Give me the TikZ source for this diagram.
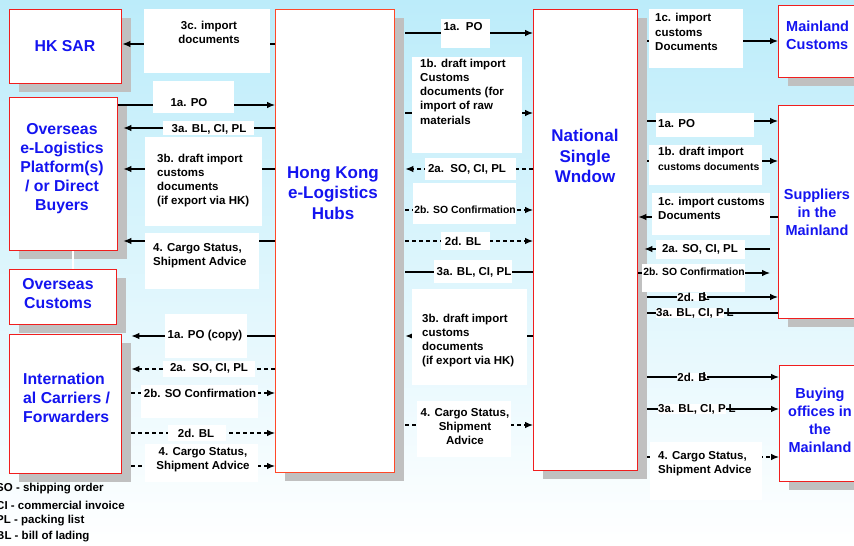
\documentclass[tikz,border=0pt]{standalone}
\usepackage{fontspec}
\setmainfont{Liberation Sans}
\usetikzlibrary{arrows.meta,shadows}
\definecolor{bgtop}{RGB}{188,236,250}
\definecolor{bgmid}{RGB}{226,246,252}
\definecolor{boxred}{RGB}{240,30,30}
\definecolor{hubred}{RGB}{255,72,40}
\definecolor{shd}{RGB}{192,192,192}
\definecolor{tblue}{RGB}{20,20,240}
\begin{document}
\begin{tikzpicture}[x=1pt,y=-1pt,
  box/.style={draw=boxred, line width=1.4pt, fill=white, inner sep=0pt, anchor=north west,
    drop shadow={shadow xshift=9pt, shadow yshift=-8pt, fill=shd, opacity=1}},
  btxt/.style={text=tblue, font=\fontsize{15.8}{19}\selectfont\bfseries, align=center, inner sep=0pt},
  rtxt/.style={text=tblue, font=\fontsize{14.5}{18}\selectfont\bfseries, align=center, inner sep=0pt},
  htxt/.style={text=tblue, font=\fontsize{17}{20.5}\selectfont\bfseries, align=center, inner sep=0pt},
  lbl/.style={font=\fontsize{11.5}{14.2}\selectfont\bfseries, inner sep=0pt, align=left},
  slbl/.style={font=\fontsize{10.4}{13}\selectfont\bfseries, inner sep=0pt, align=left},
  arr/.style={line width=1.1pt, -{Latex[length=8pt,width=6.5pt]}},
  ln/.style={line width=1.1pt},
  dsh/.style={dash pattern=on 4pt off 3pt},
  wb/.style={fill=white}
]
\useasboundingbox (0,0) rectangle (854,546);
\clip (0,0) rectangle (854,546);
\shade[top color=bgtop, middle color=bgmid, bottom color=white] (0,0) rectangle (854,546);

% boxes
\node[box, minimum width=112pt, minimum height=74pt] (hksar) at (9,9) {};
\node[box, minimum width=108pt, minimum height=153pt] (ovs) at (9,97) {};
\node[box, minimum width=107pt, minimum height=55pt] (ovc) at (9,269) {};
\node[box, minimum width=112pt, minimum height=139pt] (carr) at (9,334) {};
\node[box, draw=hubred, minimum width=119pt, minimum height=463pt] (hub) at (275,9) {};
\node[box, minimum width=104pt, minimum height=461pt] (nsw) at (533,9) {};
\node[box, minimum width=100pt, minimum height=72pt] (mcus) at (778,5) {};
\node[box, minimum width=100pt, minimum height=213pt] (sup) at (778,105) {};
\node[box, minimum width=100pt, minimum height=116pt] (buy) at (779,365) {};

\coordinate (ovsE) at ([xshift=5pt]ovs.east);
\coordinate (carrE) at ([xshift=9pt]carr.east);
\coordinate (hubE) at ([xshift=10pt]hub.east);
\coordinate (nswE) at ([xshift=9pt]nsw.east);
\coordinate (supW) at ([xshift=-8pt]sup.west);

\draw[white, line width=1.5pt] (ovs.south -| 73,0) -- (ovc.north -| 73,0);

% left connectors
\draw[arr] (hub.west |- 0,44) -- (hksar.east |- 0,44);
\draw[arr] (ovs.east |- 0,105) -- (hub.west |- 0,105);
\draw[arr] (hub.west |- 0,128) -- (ovsE |- 0,128);
\draw[arr] (hub.west |- 0,169) -- (ovsE |- 0,169);
\draw[arr] (hub.west |- 0,241) -- (ovsE |- 0,241);
\draw[arr] (hub.west |- 0,336) -- (carrE |- 0,336);
\draw[arr,dsh] (hub.west |- 0,369) -- (carrE |- 0,369);
\draw[arr,dsh] (carrE |- 0,393) -- (hub.west |- 0,393);
\draw[arr,dsh] (carrE |- 0,433) -- (hub.west |- 0,433);
\draw[arr,dsh] (carrE |- 0,466) -- (hub.west |- 0,466);

% middle connectors
\draw[arr] (hubE |- 0,33) -- (nsw.west |- 0,33);
\draw[arr] (hubE |- 0,113) -- (nsw.west |- 0,113);
\draw[arr,dsh] (nsw.west |- 0,169) -- (hubE |- 0,169);
\draw[arr,dsh] (hubE |- 0,210) -- (nsw.west |- 0,210);
\draw[arr,dsh] (hubE |- 0,241) -- (nsw.west |- 0,241);
\draw[ln] (hubE |- 0,272) -- (nsw.west |- 0,272);
\draw[arr] (nsw.west |- 0,336) -- (hubE |- 0,336);
\draw[arr,dsh] (hubE |- 0,425) -- (nsw.west |- 0,425);

% right connectors
\draw[arr] (nswE |- 0,41) -- (mcus.west |- 0,41);
\draw[arr] (nswE |- 0,121) -- (sup.west |- 0,121);
\draw[arr] (nswE |- 0,161) -- (sup.west |- 0,161);
\draw[arr] (sup.west |- 0,217) -- (nsw.east |- 0,217);
\draw[arr] (supW |- 0,249) -- ([xshift=-3pt]nswE |- 0,249);
\draw[arr] (nsw.east |- 0,273) -- (supW |- 0,273);
\draw[arr] (nswE |- 0,297) -- (sup.west |- 0,297);
\draw[ln] (nswE |- 0,313) -- (sup.west |- 0,313);
\draw[arr] (nswE |- 0,377) -- (buy.west |- 0,377);
\draw[arr] (nswE |- 0,409) -- (buy.west |- 0,409);
\draw[arr,dsh] (nswE |- 0,457) -- (buy.west |- 0,457);

% white label backgrounds
\fill[wb] (144,9) rectangle (270,73);
\fill[wb] (153,81) rectangle (234,113);
\fill[wb] (163,121) rectangle (254,135);
\fill[wb] (145,137) rectangle (262,226);
\fill[wb] (145,233) rectangle (259,289);
\fill[wb] (165,314) rectangle (247,358);
\fill[wb] (163,361) rectangle (255,377);
\fill[wb] (141,385) rectangle (258,418);
\fill[wb] (168,425) rectangle (226,441);
\fill[wb] (145,444) rectangle (258,482);

\fill[wb] (441,19) rectangle (490,48);
\fill[wb] (412,57) rectangle (522,153);
\fill[wb] (425,158) rectangle (516,180);
\fill[wb] (413,183) rectangle (516,224);
\fill[wb] (441,232) rectangle (490,250);
\fill[wb] (434,260) rectangle (512,283);
\fill[wb] (412,289) rectangle (527,385);
\fill[wb] (417,401) rectangle (511,457);

\fill[wb] (649,9) rectangle (743,68);
\fill[wb] (656,113) rectangle (754,137);
\fill[wb] (649,145) rectangle (762,185);
\fill[wb] (652,193) rectangle (770,235);
\fill[wb] (656,240) rectangle (745,259);
\fill[wb] (642,264) rectangle (745,292);
\fill[wb] (650,442) rectangle (762,500);

% left labels
\node[lbl, align=center] (l1) at (209,32) {3c. import\\documents};
\node[lbl] (l2) at (189,103) {1a. PO};
\node[lbl] (l3) at (209,129) {3a. BL, CI, PL};
\node[lbl, anchor=west] (l4) at (157,180.5) {3b. draft import\\customs\\documents\\(if export via HK)};
\node[lbl, anchor=west] (l5) at (153,256) {4. Cargo Status,\\Shipment Advice};
\node[lbl] (l6) at (205,336) {1a. PO (copy)};
\node[lbl] (l7) at (209,368) {2a.\ \ SO, CI, PL};
\node[lbl] (l8) at (200,393) {2b. SO Confirmation};
\node[lbl] (l9) at (196,433) {2d. BL};
\node[lbl, align=center] (l10) at (203,460) {4. Cargo Status,\\Shipment Advice};

% middle labels
\node[lbl] (m1) at (463,27) {1a.\ \ PO};
\node[lbl, anchor=west] (m2) at (420,91.5) {1b. draft import\\Customs\\documents (for\\import of raw\\materials};
\node[lbl] (m3) at (467,169) {2a.\ \ SO, CI, PL};
\node[slbl] (m4) at (465,210) {2b. SO Confirmation};
\node[lbl] (m5) at (463,241) {2d. BL};
\node[lbl] (m6) at (474,272) {3a. BL, CI, PL};
\node[lbl, anchor=west] (m7) at (422,340.5) {3b. draft import\\customs\\documents\\(if export via HK)};
\node[lbl, align=center] (m8) at (465,426.5) {4. Cargo Status,\\Shipment\\Advice};

% right labels
\node[lbl, anchor=west] (r1) at (655,32) {1c. import\\customs\\Documents};
\node[lbl, anchor=west] (r2) at (658,124) {1a. PO};
\node[lbl, anchor=west] (r3a) at (658,153) {1b. draft import};
\node[slbl, anchor=west] (r3b) at (658,167) {customs documents};
\node[lbl, anchor=west] (r4) at (658,208) {1c. import customs\\Documents};
\node[lbl] (r5) at (700,249) {2a. SO, CI, PL};
\node[slbl] (r6) at (694,272) {2b. SO Confirmation};
\node[lbl, fill=white] (r7) at (692,297) {2d. B};
\node[lbl, anchor=west] (r7b) at (702.5,297) {L};
\node[lbl, fill=white] (r8) at (690,313) {3a. BL, CI, P};
\node[lbl, anchor=west] (r8b) at (726.5,313) {L};
\node[lbl, fill=white] (r9) at (692,377) {2d. B};
\node[lbl, anchor=west] (r9b) at (702.5,377) {L};
\node[lbl, fill=white] (r10) at (692,409) {3a. BL, CI, P};
\node[lbl, anchor=west] (r10b) at (728.5,409) {L};
\node[lbl, anchor=west] (r11) at (658,464) {4. Cargo Status,\\Shipment Advice};

% box texts
\node[btxt] (t1) at (65,46) {HK SAR};
\node[btxt] (t2) at (62,169) {Overseas\\e-Logistics\\Platform(s)\\/ or Direct\\Buyers};
\node[btxt] (t3) at (58,294) {Overseas\\Customs};
\node[btxt, align=left, anchor=west] (t4) at (23,398) {Internation\\al Carriers /\\Forwarders};
\node[htxt] (t5) at (333,193) {Hong Kong\\e-Logistics\\Hubs};
\node[htxt] (t6) at (585,156) {National\\Single\\Wndow};
\node[rtxt, align=left, anchor=west] (t7) at (786,35) {Mainland\\Customs};
\node[rtxt] (t8) at (817,212) {Suppliers\\in the\\Mainland};
\node[rtxt] (t9) at (820,420) {Buying\\offices in\\the\\Mainland};

% legend
\node[lbl, anchor=west] (g1) at (-4,489) {SO - shipping order};
\node[lbl, anchor=west] (g2) at (-4,505) {CI - commercial invoice};
\node[lbl, anchor=west] (g3) at (-4,521) {PL - packing list};
\node[lbl, anchor=west] (g4) at (-4,537) {BL - bill of lading};
\end{tikzpicture}
\end{document}
